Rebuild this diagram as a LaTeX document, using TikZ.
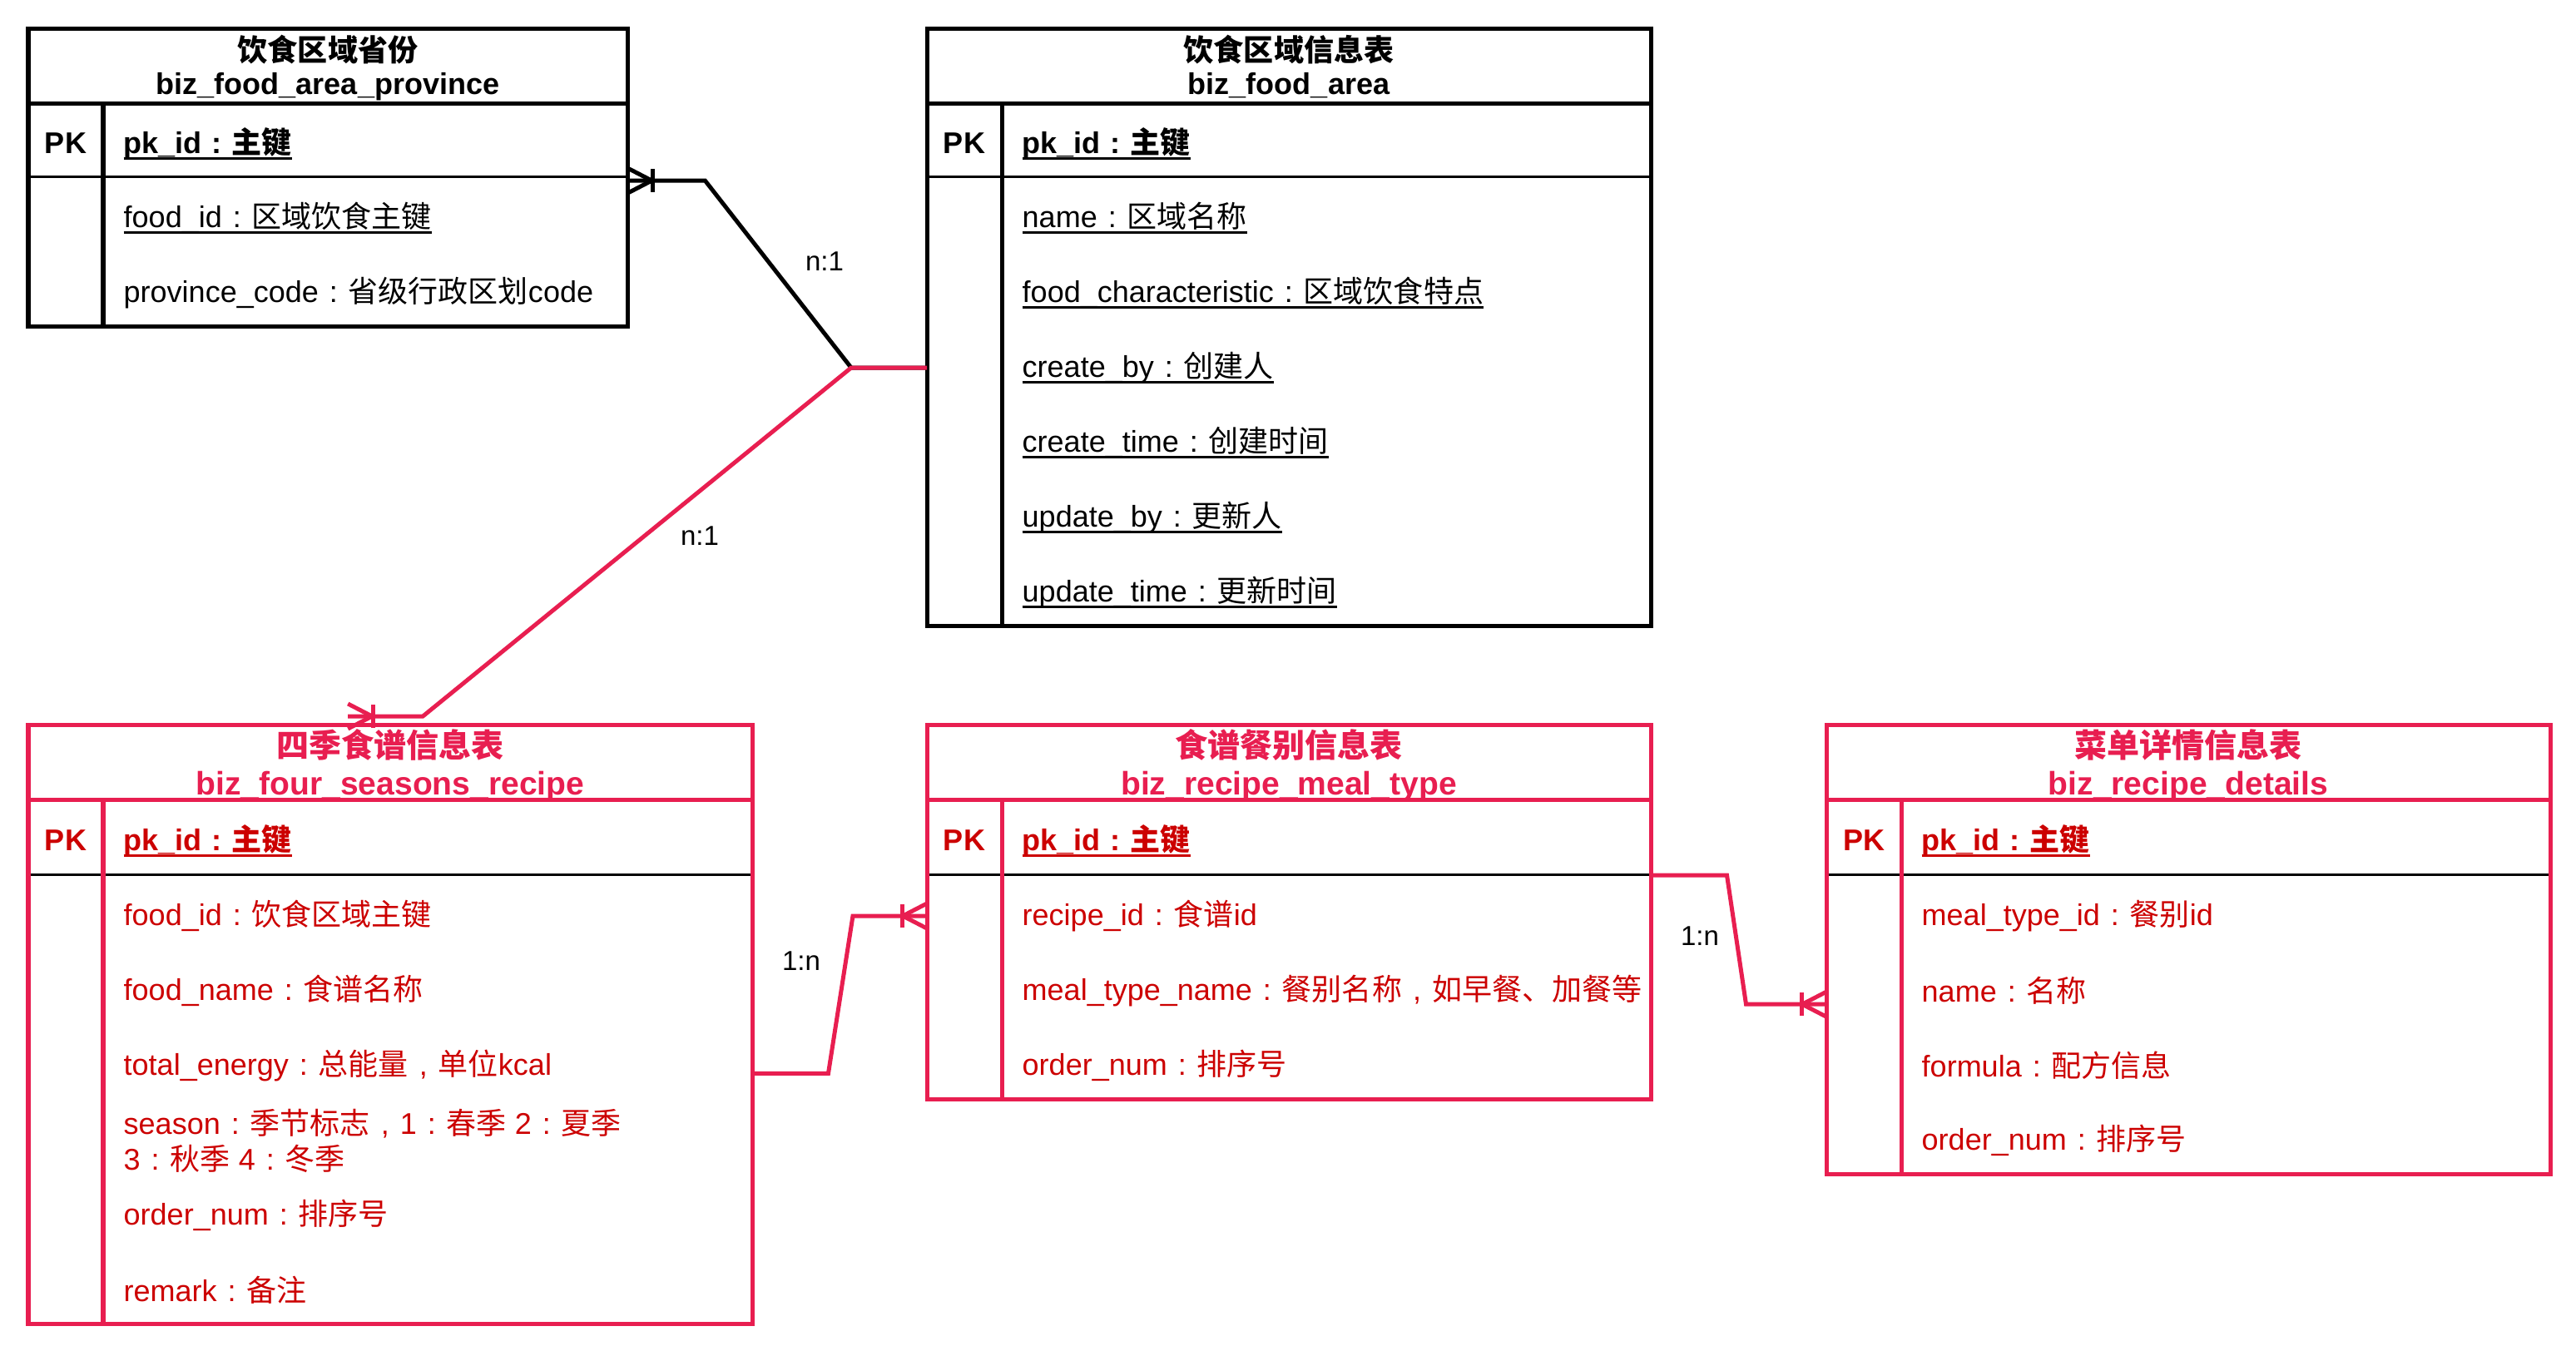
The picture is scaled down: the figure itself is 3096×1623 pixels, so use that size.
\documentclass[tikz,border=0pt]{standalone}
\usepackage{fontspec}
\setmainfont{Liberation Sans}
\newfontfamily\zh{Noto Sans CJK SC}
\definecolor{ered}{RGB}{232,30,80}
\definecolor{tred}{RGB}{204,0,0}
\newcommand\Z[1]{{\zh #1}}
\newcommand\cc{\makebox[1em]{:}}
\newcommand\cm{\makebox[1em]{,}}
\newcommand\ul[1]{\setbox0\hbox{#1}\rlap{\rule[-0.21em]{\wd0}{0.08em}}\box0}
\newcommand\crowfoot[3]{%
  \begin{scope}[shift={(#1)},rotate=#2]
    \draw[conn,#3] (0,-15) -- (29,0) -- (0,15);
    \draw[conn,#3] (30,-14) -- (30,14);
  \end{scope}}
\tikzset{
  conn/.style={line width=0.05cm},
  thickln/.style={line width=0.05cm},
  thinln/.style={line width=0.03cm},
  attr/.style={anchor=west, inner sep=0, yshift=-0.05cm, font=\fontsize{10.24}{12.2}\selectfont},
  pkid/.style={anchor=west, inner sep=0, yshift=-0.05cm, font=\fontsize{10.24}{12.2}\selectfont\bfseries},
  pkst/.style={inner sep=0, yshift=-0.04cm, font=\fontsize{10.24}{12.2}\selectfont\bfseries},
  ttl/.style={inner sep=0, font=\fontsize{10.24}{12.2}\selectfont\bfseries},
  ttlr/.style={inner sep=0, font=\fontsize{11.1}{13}\selectfont\bfseries, text=ered},
  lbl/.style={inner sep=0, font=\fontsize{9.39}{11}\selectfont},
  tblbox/.style={draw, line width=0.05cm, inner sep=0, outer sep=0, anchor=north west},
}
\begin{document}
\begin{tikzpicture}[x=0.01cm,y=-0.01cm,line join=miter]
\useasboundingbox[fill=white] (0,0) rectangle (3096,1623);

% ---------------- Table 1: biz_food_area_province
\fill[white] (34,34) rectangle (754,392);
\node[ttl] (t1t) at (394,60) {\Z{饮食区域省份}};
\node[ttl,anchor=base] (t1n) at (394,113) {biz\_food\_area\_province};
\fill[white] (34,124) rectangle (754,392);
\node[pkst] (t1k) at (79,168) {PK};
\node[pkid] (t1p) at (148,168) {\ul{pk\_id\cc\Z{主键}}};
\node[attr] (t1a) at (148,257) {\ul{food\_id\cc\Z{区域饮食主键}}};
\node[attr] (t1b) at (148,347) {province\_code\cc\Z{省级行政区划}code};
\draw[thinln] (34,212) -- (754,212);
\draw[thickln] (34,124) -- (754,124);
\draw[thickln] (124,124) -- (124,392);
\node[tblbox, minimum width=7.2cm, minimum height=3.58cm] (t1) at (34,34) {};

% ---------------- Table 2: biz_food_area
\fill[white] (1114,34) rectangle (1984,752);
\node[ttl] (t2t) at (1549,60) {\Z{饮食区域信息表}};
\node[ttl,anchor=base] (t2n) at (1549,113) {biz\_food\_area};
\fill[white] (1114,124) rectangle (1984,752);
\node[pkst] (t2k) at (1159,168) {PK};
\node[pkid] (t2p) at (1228,168) {\ul{pk\_id\cc\Z{主键}}};
\node[attr] (t2a) at (1228,257) {\ul{name\cc\Z{区域名称}}};
\node[attr] (t2b) at (1228,347) {\ul{food\_characteristic\cc\Z{区域饮食特点}}};
\node[attr] (t2c) at (1228,437) {\ul{create\_by\cc\Z{创建人}}};
\node[attr] (t2d) at (1228,527) {\ul{create\_time\cc\Z{创建时间}}};
\node[attr] (t2e) at (1228,617) {\ul{update\_by\cc\Z{更新人}}};
\node[attr] (t2f) at (1228,707) {\ul{update\_time\cc\Z{更新时间}}};
\draw[thinln] (1114,212) -- (1984,212);
\draw[thickln] (1114,124) -- (1984,124);
\draw[thickln] (1204,124) -- (1204,752);
\node[tblbox, minimum width=8.7cm, minimum height=7.18cm] (t2) at (1114,34) {};

% ---------------- Table 3: biz_four_seasons_recipe
\fill[white] (34,871) rectangle (904,1591);
\node[ttlr] (t3t) at (469,895) {\Z{四季食谱信息表}};
\node[ttlr,anchor=base] (t3n) at (469,955) {biz\_four\_seasons\_recipe};
\fill[white] (34,961) rectangle (904,1591);
\node[pkst,text=tred] (t3k) at (79,1006) {PK};
\node[pkid,text=tred] (t3p) at (148,1006) {\ul{pk\_id\cc\Z{主键}}};
\node[attr,text=tred] (t3a) at (148,1096) {food\_id\cc\Z{饮食区域主键}};
\node[attr,text=tred] (t3b) at (148,1186) {food\_name\cc\Z{食谱名称}};
\node[attr,text=tred] (t3c) at (148,1276) {total\_energy\cc\Z{总能量}\cm\Z{单位}kcal};
\node[attr,text=tred,align=left] (t3d) at (148,1366) {season\cc\Z{季节标志}\cm 1\cc\Z{春季} 2\cc\Z{夏季}\\3\cc\Z{秋季} 4\cc\Z{冬季}};
\node[attr,text=tred] (t3e) at (148,1456) {order\_num\cc\Z{排序号}};
\node[attr,text=tred] (t3f) at (148,1546) {remark\cc\Z{备注}};
\draw[thinln] (34,1051) -- (904,1051);
\draw[thickln,ered] (34,961) -- (904,961);
\draw[thickln,ered] (124,961) -- (124,1591);
\node[tblbox, draw=ered, minimum width=8.7cm, minimum height=7.2cm] (t3) at (34,871) {};

% ---------------- Table 4: biz_recipe_meal_type
\fill[white] (1114,871) rectangle (1984,1321);
\node[ttlr] (t4t) at (1549,895) {\Z{食谱餐别信息表}};
\node[ttlr,anchor=base] (t4n) at (1549,955) {biz\_recipe\_meal\_type};
\fill[white] (1114,961) rectangle (1984,1321);
\node[pkst,text=tred] (t4k) at (1159,1006) {PK};
\node[pkid,text=tred] (t4p) at (1228,1006) {\ul{pk\_id\cc\Z{主键}}};
\node[attr,text=tred] (t4a) at (1228,1096) {recipe\_id\cc\Z{食谱}id};
\node[attr,text=tred] (t4b) at (1228,1186) {meal\_type\_name\cc\Z{餐别名称}\cm\Z{如早餐、加餐等}};
\node[attr,text=tred] (t4c) at (1228,1276) {order\_num\cc\Z{排序号}};
\draw[thinln] (1114,1051) -- (1984,1051);
\draw[thickln,ered] (1114,961) -- (1984,961);
\draw[thickln,ered] (1204,961) -- (1204,1321);
\node[tblbox, draw=ered, minimum width=8.7cm, minimum height=4.5cm] (t4) at (1114,871) {};

% ---------------- Table 5: biz_recipe_details
\fill[white] (2195,871) rectangle (3065,1411);
\node[ttlr] (t5t) at (2630,895) {\Z{菜单详情信息表}};
\node[ttlr,anchor=base] (t5n) at (2630,955) {biz\_recipe\_details};
\fill[white] (2195,961) rectangle (3065,1411);
\node[pkst,text=tred] (t5k) at (2240,1006) {PK};
\node[pkid,text=tred] (t5p) at (2309,1006) {\ul{pk\_id\cc\Z{主键}}};
\node[attr,text=tred] (t5a) at (2309,1096) {meal\_type\_id\cc\Z{餐别}id};
\node[attr,text=tred] (t5b) at (2309,1186) {name\cc\Z{名称}};
\node[attr,text=tred] (t5c) at (2309,1276) {formula\cc\Z{配方信息}};
\node[attr,text=tred] (t5d) at (2309,1366) {order\_num\cc\Z{排序号}};
\draw[thinln] (2195,1051) -- (3065,1051);
\draw[thickln,ered] (2195,961) -- (3065,961);
\draw[thickln,ered] (2285,961) -- (2285,1411);
\node[tblbox, draw=ered, minimum width=8.7cm, minimum height=5.4cm] (t5) at (2195,871) {};

% ---------------- Connectors
\coordinate (jn) at (t2c -| 1023,0);
\coordinate (c1s) at ([yshift=-1.83cm]t1.north east);
\coordinate (t3tip) at ([xshift=3.84cm,yshift=0.10cm]t3.north west);
\coordinate (c3s) at ([yshift=-4.19cm]t3.north east);
\coordinate (c3k) at (t4a -| 1025,0);
\coordinate (c4s) at ([yshift=-1.81cm]t4.north east);
\coordinate (c4e) at ([yshift=-3.36cm]t5.north west);

\draw[conn] (c1s) -- ++(93,0) -- (jn) -- (t2.west |- t2c);
\crowfoot{c1s}{0}{black}
\draw[conn,ered] (t3tip) -- ++(90,0) -- (jn) -- (t2.west |- t2c);
\crowfoot{t3tip}{0}{ered}
\draw[conn,ered] (c3s) -- ++(91,0) -- (c3k) -- (t4.west |- t4a);
\crowfoot{t4.west |- t4a}{180}{ered}
\draw[conn,ered] (c4s) -- ++(91,0) -- ++(23,155) -- (c4e);
\crowfoot{c4e}{180}{ered}

\node[lbl] (l1) at (991,314) {n:1};
\node[lbl] (l2) at (841,644) {n:1};
\node[lbl] (l3) at (963,1155) {1:n};
\node[lbl] (l4) at (2043,1125) {1:n};
\end{tikzpicture}
\end{document}
